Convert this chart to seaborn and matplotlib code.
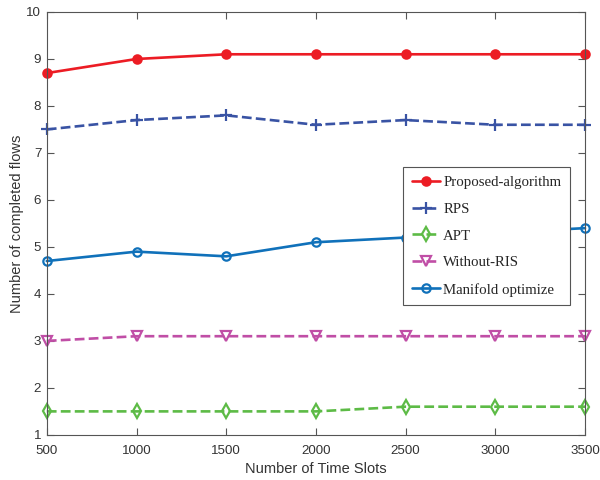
import matplotlib
matplotlib.use("Agg")
import matplotlib.pyplot as plt
import seaborn as sns
import pandas as pd

slots = [500, 1000, 1500, 2000, 2500, 3000, 3500]
proposed = [8.7, 9.0, 9.1, 9.1, 9.1, 9.1, 9.1]
rps = [7.5, 7.7, 7.8, 7.6, 7.7, 7.6, 7.6]
apt = [1.5, 1.5, 1.5, 1.5, 1.6, 1.6, 1.6]
without_ris = [3.0, 3.1, 3.1, 3.1, 3.1, 3.1, 3.1]
manifold = [4.7, 4.9, 4.8, 5.1, 5.2, 5.3, 5.4]

names = ["Proposed-algorithm", "RPS", "APT", "Without-RIS", "Manifold optimize"]
series = [proposed, rps, apt, without_ris, manifold]
colors = ["#ec1c24", "#3953a4", "#5dbb46", "#c04ea6", "#1071ba"]
markers = ["o", "+", "d", "v", "o"]
styles = ["-", "--", "--", "--", "-"]
filled = [True, False, False, False, False]
msizes = [6, 9, 7, 7, 6]

sns.set_style("ticks")
fig = plt.figure(figsize=(6, 4.8), dpi=100)
ax = fig.add_axes([0.078, 0.094, 0.897, 0.881])

for name, vals, c, m, ls, fl, ms in zip(names, series, colors, markers, styles, filled, msizes):
    df = pd.DataFrame({"x": slots, "y": vals})
    kw = dict(color=c, marker=m, linestyle=ls, linewidth=1.9, markersize=ms,
              markeredgewidth=1.6, markeredgecolor=c,
              markerfacecolor=(c if fl else "none"), label=name, clip_on=False)
    if ls == "--":
        kw["dashes"] = (4.5, 2.8)
    sns.lineplot(data=df, x="x", y="y", ax=ax, **kw)

ax.set_xlim(500, 3500)
ax.set_ylim(1, 10)
ax.set_xticks(slots)
ax.set_yticks(range(1, 11))
for s in ax.spines.values():
    s.set_visible(True)
    s.set_color("#555555")
    s.set_linewidth(0.8)
ax.tick_params(direction="in", top=True, right=True, length=5, width=0.8,
               colors="#555555", labelsize=9.6, labelcolor="#333333")
ax.tick_params(axis="x", pad=7)
ax.tick_params(axis="y", pad=4)
for lab in ax.get_xticklabels() + ax.get_yticklabels():
    lab.set_fontfamily("Liberation Sans")
ax.set_xlabel("Number of Time Slots", fontsize=10.5, family="Liberation Sans", color="#333333")
ax.set_ylabel("Number of completed flows", fontsize=10.5, family="Liberation Sans",
              color="#333333", labelpad=2)

leg = ax.legend(loc="upper left", bbox_to_anchor=(0.662, 0.634), borderaxespad=0,
                prop={"family": "Liberation Serif", "size": 10.7}, frameon=True,
                fancybox=False, framealpha=1, handlelength=1.9, handletextpad=0.2,
                labelspacing=0.9, borderpad=0.6)
leg.get_frame().set_edgecolor("#555555")
leg.get_frame().set_linewidth(0.8)
leg.set_zorder(10)

fig.savefig("out.png", dpi=100)
